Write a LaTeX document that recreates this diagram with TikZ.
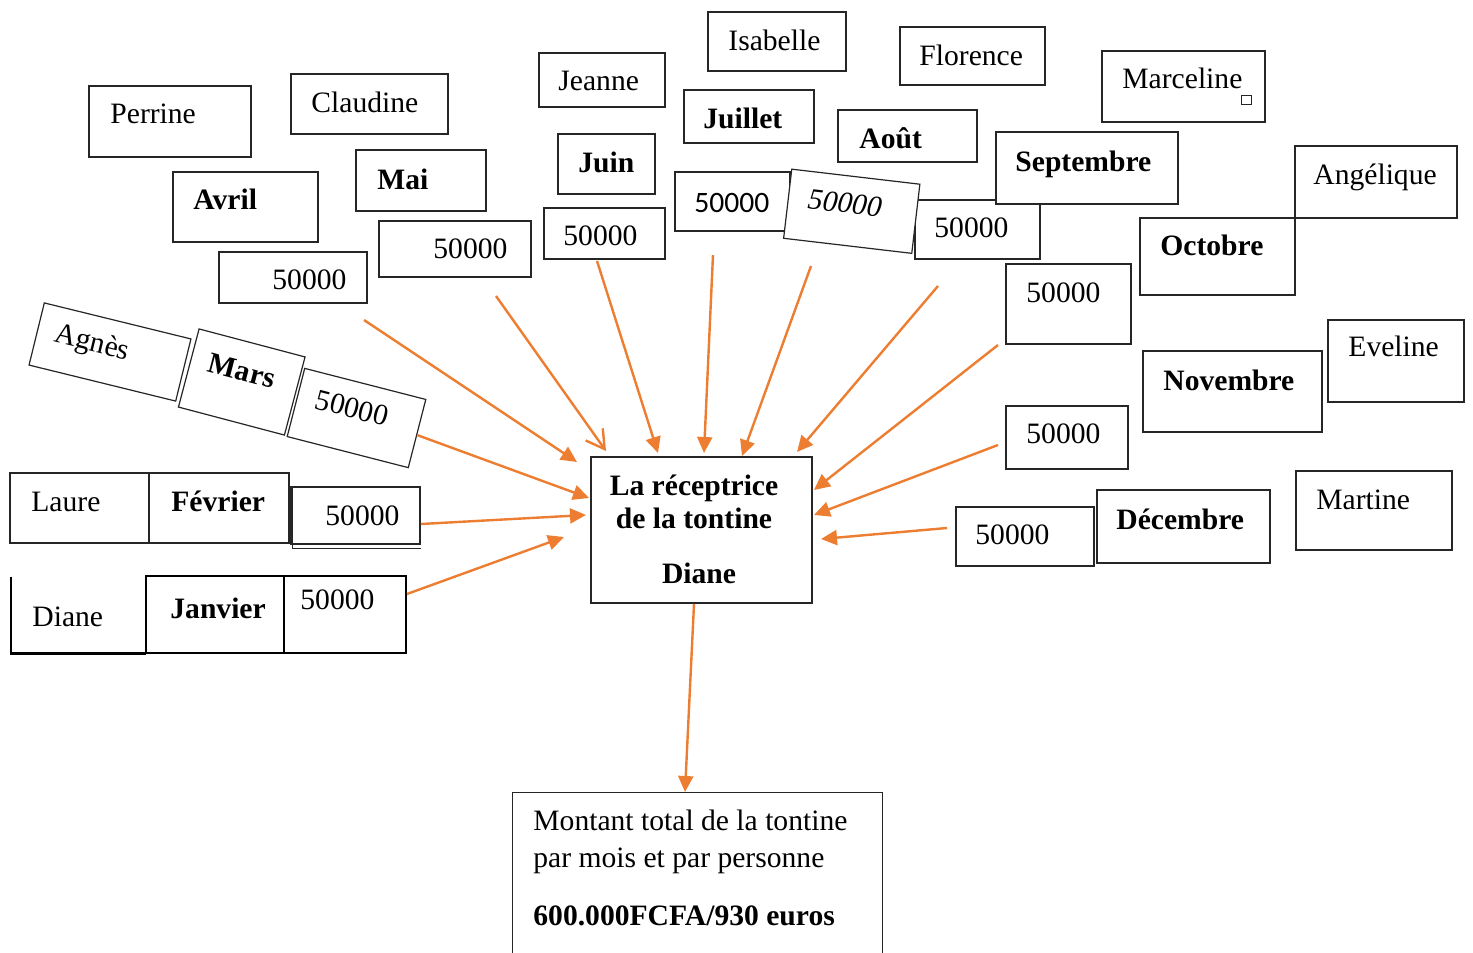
\documentclass[tikz,border=0pt]{standalone}
\usepackage{fontspec}
\setmainfont{Liberation Serif}
\newfontfamily\calib{Carlito}
\usetikzlibrary{fit,arrows.meta}
\definecolor{orng}{HTML}{ED7D31}
\tikzset{
  bx/.style={draw=black!85, line width=0.6pt, inner sep=0pt, fill=white},
  thickbx/.style={bx, draw=black, line width=1.1pt},
  txt/.style={inner sep=0pt, font=\fontsize{14.8}{17}\selectfont},
  btxt/.style={inner sep=0pt, font=\fontsize{14.8}{17}\selectfont\bfseries},
  arr/.style={draw=orng, line width=1.2pt, -{Triangle[length=8pt,width=7.5pt]}},
  oarr/.style={draw=orng, line width=1.2pt, -{Straight Barb[length=9pt,width=10.5pt]}},
}
\begin{document}
\begin{tikzpicture}[x=0.5pt,y=-0.5pt]
\useasboundingbox (0,0) rectangle (1473,953);

% ---- top-left group
\node[bx, fit={(89,86)(251,157)}] (bPerrine) {};
\node[txt, anchor=base west] (tPerrine) at (110,123) {Perrine};
\node[bx, fit={(291,74)(448,134)}] (bClaudine) {};
\node[txt, anchor=base west] (tClaudine) at (311,112) {Claudine};
\node[bx, fit={(173,172)(318,242)}] (bAvril) {};
\node[btxt, anchor=base west] (tAvril) at (193,209) {Avril};
\node[bx, fit={(356,150)(486,211)}] (bMai) {};
\node[btxt, anchor=base west] (tMai) at (377,189) {Mai};
\node[bx, fit={(219,252)(367,303)}] (bVa) {};
\node[txt, anchor=base west] (tVa) at (272,289) {50000};
\node[bx, fit={(379,221)(531,277)}] (bVm) {};
\node[txt, anchor=base west] (tVm) at (433,258) {50000};

% ---- top-middle group
\node[bx, fit={(539,53)(665,107)}] (bJeanne) {};
\node[txt, anchor=base west] (tJeanne) at (558,90) {Jeanne};
\node[bx, fit={(558,134)(655,194)}] (bJuin) {};
\node[btxt, anchor=base west] (tJuin) at (578,172) {Juin};
\node[bx, fit={(544,208)(665,259)}] (bVj) {};
\node[txt, anchor=base west] (tVj) at (563,245) {50000};
\node[bx, fit={(708,12)(846,71)}] (bIsabelle) {};
\node[txt, anchor=base west] (tIsabelle) at (728,50) {Isabelle};
\node[bx, fit={(684,90)(814,143)}] (bJuillet) {};
\node[btxt, anchor=base west] (tJuillet) at (703,128) {Juillet};
\node[bx, fit={(675,172)(790,231)}] (bVjl) {};
\node[txt, anchor=base west, font=\fontsize{14.8}{17}\calib] (tVjl) at (694,212) {50000};
\node[bx, fit={(900,27)(1045,85)}] (bFlorence) {};
\node[txt, anchor=base west] (tFlorence) at (919,65) {Florence};
\node[bx, fit={(838,110)(977,162)}] (bAout) {};
\node[btxt, anchor=base west] (tAout) at (859,148) {Août};
\node[bx, fit={(915,200)(1040,259)}] (bVao) {};
\node[txt, anchor=base west] (tVao) at (934,237) {50000};
\node[bx, rotate=-6.7, minimum width=64.5pt, minimum height=34.8pt] (bVit) at (851.75,211.25) {};
\node[txt, rotate=-6.7, font=\fontsize{14.8}{17}\selectfont\itshape] (tVit) at (845,203) {50000};
\node[bx, fit={(996,132)(1178,204)}] (bSept) {};
\node[btxt, anchor=base west] (tSept) at (1015,171) {Septembre};

% ---- right group
\node[bx, fit={(1102,51)(1265,122)}] (bMarceline) {};
\node[txt, anchor=base west] (tMarceline) at (1122,88) {Marceline};
\node[bx, line width=0.5pt, fit={(1241,95)(1251,104)}] (bSq) {};
\node[bx, fit={(1295,146)(1457,218)}] (bAngelique) {};
\node[txt, anchor=base west] (tAngelique) at (1313,184) {Angélique};
\node[bx, fit={(1140,218)(1295,295)}] (bOctobre) {};
\node[btxt, anchor=base west] (tOctobre) at (1160,255) {Octobre};
\node[bx, fit={(1006,264)(1131,344)}] (bVo) {};
\node[txt, anchor=base west] (tVo) at (1026,302) {50000};
\node[bx, fit={(1328,320)(1464,402)}] (bEveline) {};
\node[txt, anchor=base west] (tEveline) at (1348,356) {Eveline};
\node[bx, fit={(1143,351)(1322,432)}] (bNovembre) {};
\node[btxt, anchor=base west] (tNovembre) at (1163,390) {Novembre};
\node[bx, fit={(1006,406)(1128,469)}] (bVn) {};
\node[txt, anchor=base west] (tVn) at (1026,443) {50000};
\node[bx, fit={(1296,471)(1452,550)}] (bMartine) {};
\node[txt, anchor=base west] (tMartine) at (1316,509) {Martine};
\node[bx, fit={(956,507)(1094,566)}] (bVd) {};
\node[txt, anchor=base west] (tVd) at (975,544) {50000};
\node[bx, fit={(1097,490)(1270,563)}] (bDecembre) {};
\node[btxt, anchor=base west] (tDecembre) at (1116,529) {Décembre};

% ---- left group
\node[bx, rotate=-13.8, minimum width=75.5pt, minimum height=32pt] (bAgnes) at (110,352) {};
\node[txt, rotate=-13.8] (tAgnes) at (92,344) {Agnès};
\node[bx, rotate=-14.8, minimum width=54.8pt, minimum height=40.4pt] (bMars) at (241.75,382) {};
\node[btxt, rotate=-14.8] (tMars) at (242,371) {Mars};
\node[bx, rotate=-14.4, minimum width=62.5pt, minimum height=35.2pt] (bVmr) at (356.5,418) {};
\node[txt, rotate=-14.4] (tVmr) at (352,408) {50000};

\node[bx, fit={(10,473)(149,543)}] (bLaure) {};
\node[txt, anchor=base west] (tLaure) at (31,511) {Laure};
\node[bx, fit={(149,473)(289,543)}] (bFevrier) {};
\node[btxt, anchor=base west] (tFevrier) at (171,511) {Février};
\node[bx, fit={(291,487)(420,544)}] (bVf) {};
\draw[draw=black!85, line width=0.6pt] ([xshift=1pt]bVf.north west) -- ([shift={(1pt,-2pt)}]bVf.south west) -- ([yshift=-2pt]bVf.south east);
\node[txt, anchor=base west] (tVf) at (325,525) {50000};

\node[inner sep=0pt, fit={(11,577)(146,653)}] (bDiane) {};
\draw[black, line width=1.1pt] (bDiane.north west) -- (bDiane.south west) -- (bDiane.south east);
\node[txt, anchor=base west] (tDiane) at (32,626) {Diane};
\node[thickbx, fit={(146,576)(284,653)}] (bJanvier) {};
\node[btxt, anchor=base west] (tJanvier) at (170,618) {Janvier};
\node[thickbx, fit={(284,576)(406,653)}] (bVjan) {};
\node[txt, anchor=base west] (tVjan) at (300,609) {50000};

% ---- centre
\node[bx, fit={(591,457)(812,603)}] (recv) {};
\node[btxt, anchor=base] (tRecv1) at (694,495) {La réceptrice};
\node[btxt, anchor=base] (tRecv2) at (694,528) {de la tontine};
\node[btxt, anchor=base] (tRecv3) at (699,583) {Diane};

% ---- bottom
\node[inner sep=0pt, fit={(513,793)(882,953)}] (total) {};
\draw[draw=black!85, line width=0.6pt] (total.south west) -- (total.north west) -- (total.north east) -- (total.south east);
\node[txt, anchor=base west] (tTot1) at (533,830) {Montant total de la tontine};
\node[txt, anchor=base west] (tTot2) at (533,867) {par mois et par personne};
\node[btxt, anchor=base west] (tTot3) at (533,925) {600.000FCFA/930 euros};

% ---- arrows
\coordinate (s1) at (364,320);  \coordinate (e1) at (577,462);
\coordinate (s2) at (496,296);  \coordinate (e2) at (606,451);
\coordinate (s3) at (597,261);  \coordinate (e3) at (658,453);
\coordinate (s4) at (713,255);  \coordinate (e4) at (704,453);
\coordinate (s5) at (811,266);  \coordinate (e5) at (742,456);
\coordinate (s6) at (938,286);  \coordinate (e6) at (797,452);
\coordinate (s7) at (998,345);  \coordinate (e7) at (814,490);
\coordinate (s8) at (998,445);  \coordinate (e8) at (814,515);
\coordinate (s9) at (947,528);  \coordinate (e9) at (821,539);
\coordinate (s10) at (417,435); \coordinate (e10) at (589,498);
\coordinate (s11) at (421,524); \coordinate (e11) at (586,515);
\coordinate (s12) at (407,594); \coordinate (e12) at (564,537);
\coordinate (s13) at (694,604); \coordinate (e13) at (685,792);

\draw[arr] (s1) -- (e1);
\draw[oarr] (s2) -- (e2);
\draw[arr] (s3) -- (e3);
\draw[arr] (s4) -- (e4);
\draw[arr] (s5) -- (e5);
\draw[arr] (s6) -- (e6);
\draw[arr] (s7) -- (e7);
\draw[arr] (s8) -- (e8);
\draw[arr] (s9) -- (e9);
\draw[arr] (s10) -- (e10);
\draw[arr] (s11) -- (e11);
\draw[arr] (s12) -- (e12);
\draw[arr] (s13) -- (e13);
\end{tikzpicture}
\end{document}
